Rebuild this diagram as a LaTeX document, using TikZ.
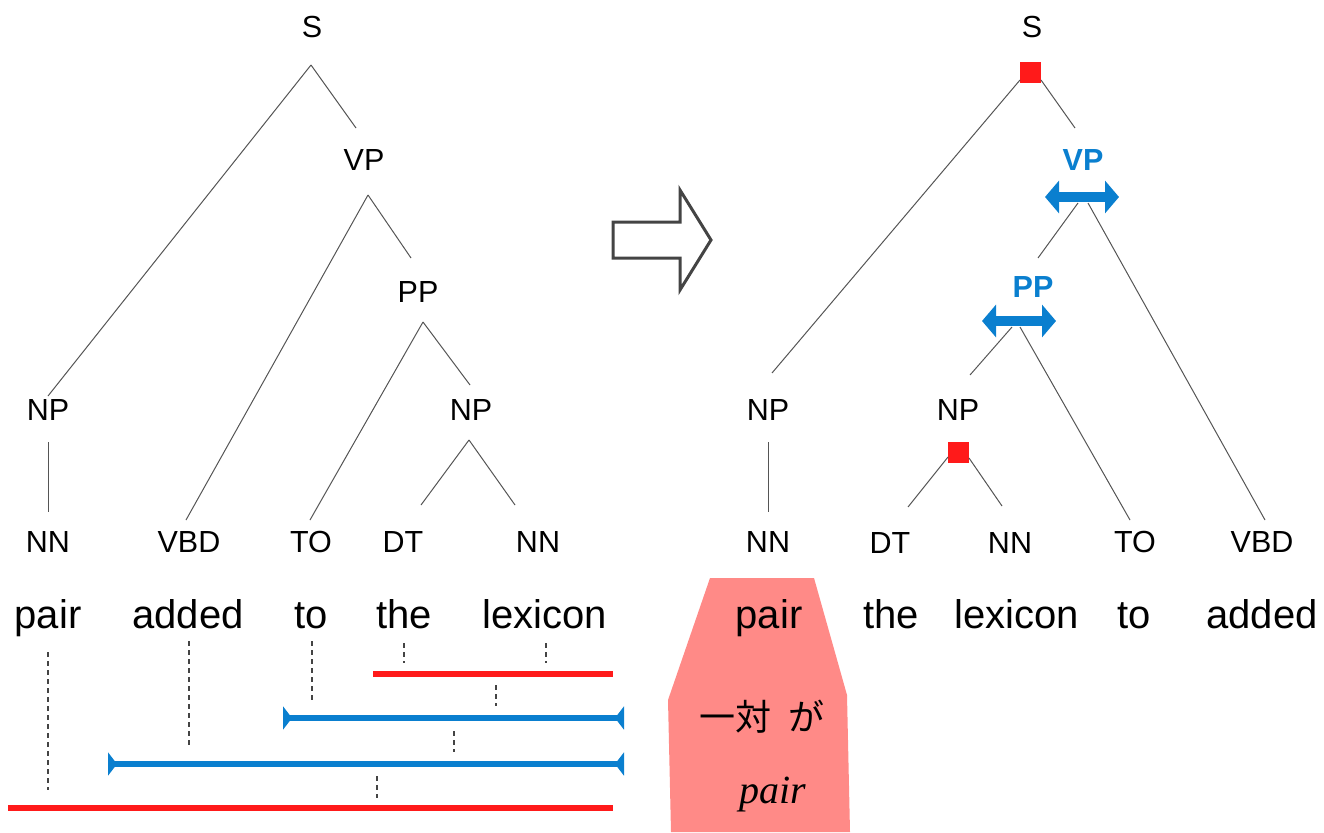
\documentclass[tikz,border=0pt]{standalone}
\usepackage{fontspec}
\setmainfont{Liberation Sans}
\newfontfamily\cjk{Noto Sans CJK JP}
\newfontfamily\seriffont{Liberation Serif}
\usetikzlibrary{calc,arrows.meta}
\definecolor{treegray}{HTML}{555555}
\definecolor{outlinegray}{HTML}{444444}
\definecolor{barred}{HTML}{FF1A1A}
\definecolor{barblue}{HTML}{0A7FCF}
\definecolor{salmon}{HTML}{FF8A87}
\tikzset{
  spantip/.tip={Triangle[reversed,length=9pt 0 0,width=23pt 0 0]},
  dbltip/.tip={Triangle[length=14pt 0 0,width=32pt 0 0]},
}
\begin{document}
\begin{tikzpicture}[x=1pt,y=-1pt,
  lab/.style={anchor=base,font=\fontsize{30.5}{36}\selectfont,inner sep=0pt},
  word/.style={anchor=base,font=\fontsize{40}{48}\selectfont,inner sep=0pt},
  blab/.style={anchor=base,font=\fontsize{30.5}{36}\selectfont\bfseries,text=barblue,inner sep=0pt},
  branch/.style={draw=treegray,line width=1pt},
  guide/.style={draw=outlinegray,line width=1.7pt,dash pattern=on 5pt off 4pt},
  redbar/.style={draw=barred,line width=5.5pt},
  bluebar/.style={draw=barblue,fill=barblue,line width=5.5pt,spantip-spantip},
  dblarrow/.style={draw=barblue,fill=barblue,line width=10pt,dbltip-dbltip},
  marker/.style={fill=barred,minimum size=21pt,inner sep=0pt,draw=none},
]
\useasboundingbox (0,0) rectangle (1324,832);

% ---------- left tree ----------
\node[lab] (lS)   at (312,38)  {S};
\node[lab] (lVP)  at (364,170) {VP};
\node[lab] (lPP)  at (418,302) {PP};
\node[lab] (lNP1) at (48,420)  {NP};
\node[lab] (lNP2) at (471,420) {NP};
\node[lab] (lNN1) at (48,552)  {NN};
\node[lab] (lVBD) at (189,552) {VBD};
\node[lab] (lTO)  at (311,552) {TO};
\node[lab] (lDT)  at (403,552) {DT};
\node[lab] (lNN2) at (538,552) {NN};

\draw[branch] ($(lS.base)+(-1,27)$) -- ($(lNP1.base)+(0,-24)$);
\draw[branch] ($(lS.base)+(-1,27)$) -- ($(lVP.base)+(-8,-42)$);
\draw[branch] ($(lVP.base)+(4,25)$) -- ($(lVBD.base)+(-3,-32)$);
\draw[branch] ($(lVP.base)+(4,25)$) -- ($(lPP.base)+(-7,-44)$);
\draw[branch] ($(lPP.base)+(5,20)$) -- ($(lTO.base)+(-1,-32)$);
\draw[branch] ($(lPP.base)+(5,20)$) -- ($(lNP2.base)+(-1,-35)$);
\draw[branch] ($(lNP2.base)+(-2,20)$) -- ($(lDT.base)+(18,-47)$);
\draw[branch] ($(lNP2.base)+(-2,20)$) -- ($(lNN2.base)+(-23,-47)$);
\draw[branch] ($(lNP1.base)+(0,22)$) -- ($(lNN1.base)+(0,-40)$);

% left words
\node[word] (lw1) at (48,628)  {pair};
\node[word] (lw2) at (188,628) {added};
\node[word] (lw3) at (311,628) {to};
\node[word] (lw4) at (404,628) {the};
\node[word] (lw5) at (545,628) {lexicon};

% span bars
\coordinate (bar1l) at (373,674);
\coordinate (bar1r) at (613,674);
\coordinate (bar2l) at (283,718);
\coordinate (bar2r) at (624,718);
\coordinate (bar3l) at (108,764);
\coordinate (bar3r) at (624,764);
\coordinate (bar4l) at (8,808);
\coordinate (bar4r) at (613,808);
\draw[redbar] (bar1l) -- (bar1r);
\draw[bluebar] (bar2l) -- (bar2r);
\draw[bluebar] (bar3l) -- (bar3r);
\draw[redbar] (bar4l) -- (bar4r);

\draw[guide] ($(lw4.base)+(0,15)$) -- ($(lw4.base)+(0,35)$);
\draw[guide] ($(lw5.base)+(1,15)$) -- ($(lw5.base)+(1,35)$);
\draw[guide] ($(bar1l)+(123,11)$) -- ($(bar1l)+(123,32)$);
\draw[guide] ($(lw3.base)+(1,13)$) -- ($(lw3.base)+(1,72)$);
\draw[guide] ($(bar2l)+(171,13)$) -- ($(bar2l)+(171,34)$);
\draw[guide] ($(lw2.base)+(1,13)$) -- ($(lw2.base)+(1,117)$);
\draw[guide] ($(bar3l)+(269,12)$) -- ($(bar3l)+(269,34)$);
\draw[guide] ($(lw1.base)+(0,24)$) -- ($(lw1.base)+(0,162)$);

% ---------- big outline arrow ----------
\draw[draw=outlinegray,line width=3pt,line join=miter]
  (613,222) -- (680,222) -- (680,190) -- (711,240) -- (680,290) -- (680,258) -- (613,258) -- cycle;

% ---------- salmon highlight ----------
\fill[salmon] (710,578) -- (814,578) -- (847,695) -- (850,832) -- (671,832) -- (668,700) -- cycle;

% ---------- right tree ----------
\node[lab]  (rS)   at (1032,38)  {S};
\node[marker] (rSq) at (1030,73) {};
\node[blab] (rVP)  at (1083,170) {VP};
\node[blab] (rPP)  at (1033,297) {PP};
\node[lab]  (rNP1) at (768,420)  {NP};
\node[lab]  (rNP2) at (958,420)  {NP};
\node[marker] (rSq2) at (958,452) {};
\node[lab]  (rNN1) at (768,552)  {NN};
\node[lab]  (rDT)  at (890,553)  {DT};
\node[lab]  (rNN2) at (1010,553) {NN};
\node[lab]  (rTO)  at (1135,552) {TO};
\node[lab]  (rVBD) at (1262,552) {VBD};

\draw[branch] ($(rSq)+(-10,7)$) -- ($(rNP1.base)+(4,-47)$);
\draw[branch] ($(rSq)+(11,7)$) -- ($(rVP.base)+(-8,-42)$);
\draw[dblarrow] ($(rVP.base)+(-38,27)$) -- ($(rVP.base)+(36,27)$);
\draw[branch] ($(rVP.base)+(-5,33)$) -- ($(rPP.base)+(5,-39)$);
\draw[branch] ($(rVP.base)+(5,33)$) -- ($(rVBD.base)+(3,-32)$);
\draw[dblarrow] ($(rPP.base)+(-51,24)$) -- ($(rPP.base)+(23,24)$);
\draw[branch] ($(rPP.base)+(-21,30)$) -- ($(rNP2.base)+(12,-45)$);
\draw[branch] ($(rPP.base)+(-13,30)$) -- ($(rTO.base)+(-5,-32)$);
\draw[branch] ($(rSq2)+(-10,5)$) -- ($(rDT.base)+(18,-46)$);
\draw[branch] ($(rSq2)+(11,6)$) -- ($(rNN2.base)+(-8,-47)$);
\draw[branch] ($(rNP1.base)+(0,22)$) -- ($(rNN1.base)+(0,-40)$);

% right words
\node[word] (rw1) at (769,628)  {pair};
\node[word] (rw2) at (891,628)  {the};
\node[word] (rw3) at (1017,628) {lexicon};
\node[word] (rw4) at (1134,628) {to};
\node[word] (rw5) at (1262,628) {added};

\node[anchor=base,inner sep=0pt,font=\cjk\fontsize{36}{42}\selectfont] (jp) at (762,730) {一対\hspace{0.45em}が};
\node[anchor=base,inner sep=0pt,font=\seriffont\itshape\fontsize{40}{46}\selectfont] (gloss) at (773,803) {pair};
\end{tikzpicture}
\end{document}
